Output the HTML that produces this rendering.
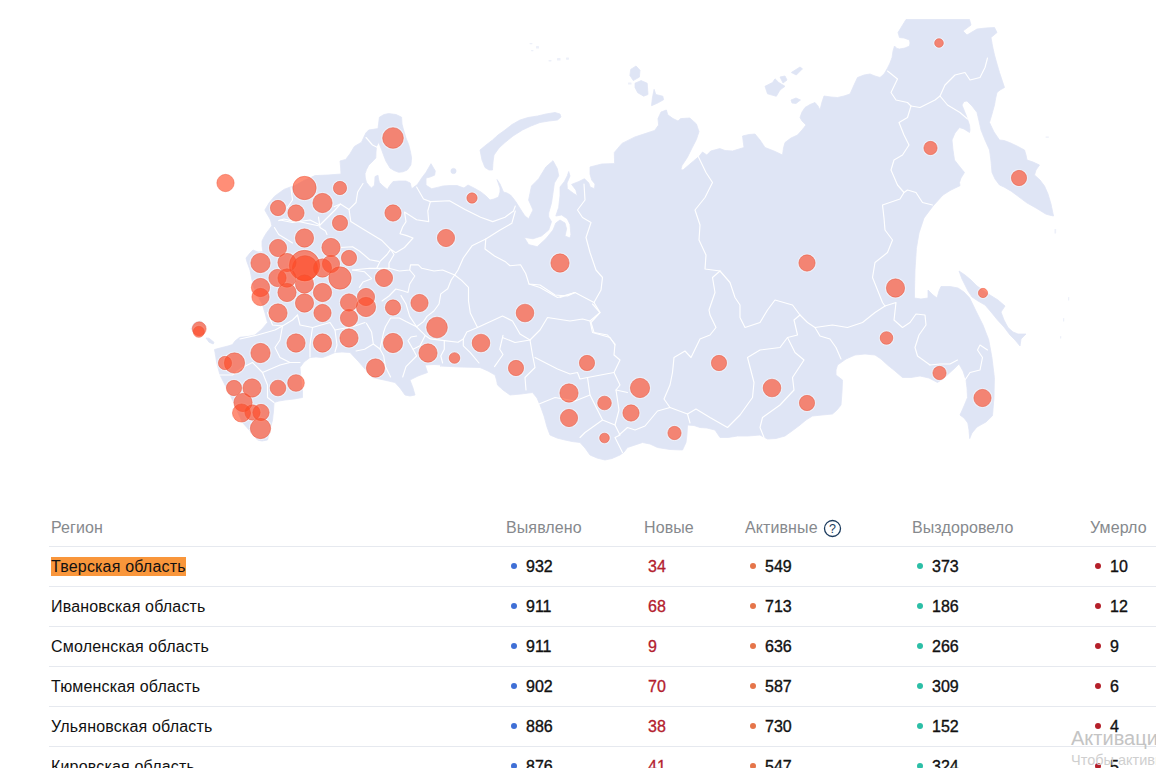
<!DOCTYPE html>
<html lang="ru"><head><meta charset="utf-8"><title>map</title>
<style>
html,body{margin:0;padding:0;background:#fff;}
body{width:1156px;height:768px;overflow:hidden;position:relative;font-family:"Liberation Sans",sans-serif;}
.map{position:absolute;left:0;top:0;}
.tbl{position:absolute;left:49px;top:507px;width:1120px;}
.row{position:relative;height:39px;border-bottom:1px solid #e6e9ef;}
.row.head{color:#8a8d91;}
.c{position:absolute;top:0;line-height:39px;font-size:16px;white-space:nowrap;color:#111;}
.nm{letter-spacing:0.18px;}
.head .c{color:#86898d;line-height:42px;letter-spacing:0.1px;}
.n{font-weight:400;-webkit-text-stroke:0.35px #111;}
.new{color:#b3202e;-webkit-text-stroke:0.3px #b3202e;}
.dot{position:absolute;width:6px;height:6px;border-radius:50%;top:16px;}
.hl{background:#f9963b;padding:1px 0 1px 0;}
.wm1{position:absolute;left:1071px;top:727px;font-size:20px;color:#c4c4c4;white-space:nowrap;}
.wm2{position:absolute;left:1071px;top:752px;font-size:14.5px;color:#cfcfcf;white-space:nowrap;}
</style></head><body>

<svg class="map" width="1156" height="500" viewBox="0 0 1156 500">
<g fill="#dfe5f5" stroke="#dfe5f5" stroke-width="0.8" stroke-linejoin="round">
<path d="M365.8,133.0 L368.7,130.0 L378.0,128.6 L379.4,117.2 L384.0,114.5 L388.7,113.6 L396.0,114.5 L401.6,117.2 L402.0,124.0 L403.8,130.8 L406.0,138.0 L408.8,145.0 L410.5,152.0 L411.6,158.0 L410.9,165.0 L407.3,170.0 L403.0,171.8 L398.7,172.3 L394.0,170.5 L390.0,168.0 L385.8,160.9 L383.5,155.0 L381.5,149.4 L378.7,142.2 L376.5,146.5 L376.0,152.0 L375.8,158.0 L372.0,162.0 L368.7,165.2 L366.5,169.5 L365.0,173.8 L365.3,178.0 L366.5,182.4 L369.0,185.5 L371.5,188.0 L374.4,185.2 L374.8,181.0 L375.0,176.6 L378.0,175.2 L378.5,179.0 L379.4,182.4 L383.0,186.0 L387.3,189.5 L390.0,185.2 L393.0,181.6 L399.0,181.0 L405.9,181.0 L410.2,183.0 L411.6,188.8 L417.4,184.5 L421.7,178.0 L426.0,172.3 L431.0,163.7 L435.3,171.0 L434.6,175.2 L430.0,177.0 L426.0,178.0 L426.0,185.2 L431.7,188.8 L437.4,187.4 L443.0,186.0 L450.0,185.5 L457.0,185.5 L461.0,187.0 L464.0,188.0 L468.0,185.0 L474.0,188.0 L481.0,192.0 L486.0,196.0 L490.0,200.0 L494.0,199.0 L498.5,197.0 L500.0,192.0 L500.0,188.0 L497.0,179.5 L500.0,184.0 L503.5,192.0 L507.0,193.0 L510.5,195.0 L513.0,198.0 L516.0,202.0 L521.0,210.0 L525.0,216.0 L528.6,218.8 L533.0,210.0 L528.6,200.0 L531.5,186.0 L538.7,178.7 L545.8,167.0 L553.0,160.7 L557.3,168.6 L558.7,175.8 L554.4,183.0 L553.0,193.0 L551.5,203.0 L548.7,213.0 L548.7,217.0 L551.5,221.6 L548.7,230.0 L541.5,236.0 L533.0,238.8 L524.3,237.4 L528.6,244.6 L537.2,246.7 L545.8,238.8 L553.0,230.0 L555.8,223.0 L560.0,220.0 L565.0,223.0 L566.6,228.8 L565.0,236.0 L570.0,238.0 L570.9,234.5 L570.0,224.5 L567.3,218.8 L561.6,215.0 L555.8,216.0 L558.7,207.3 L560.0,195.8 L560.0,187.0 L564.4,181.5 L567.3,175.8 L568.7,171.5 L570.0,176.0 L567.0,183.0 L567.3,188.7 L573.0,193.0 L577.3,195.8 L575.9,190.0 L571.6,184.4 L578.8,181.5 L584.5,178.7 L588.8,183.0 L590.2,187.0 L594.5,188.7 L595.0,184.0 L591.7,180.0 L590.0,174.0 L590.0,167.0 L601.7,164.0 L614.6,163.6 L614.3,152.5 L622.0,143.4 L635.0,136.9 L643.0,134.3 L654.7,130.4 L658.6,125.0 L658.0,118.6 L661.0,112.0 L666.4,110.0 L667.7,114.7 L673.0,118.6 L678.0,121.0 L680.7,118.6 L689.8,118.0 L696.4,123.9 L699.0,131.7 L696.4,139.5 L692.4,147.3 L687.2,157.7 L682.0,165.5 L680.8,169.6 L683.0,170.0 L687.0,166.5 L693.5,161.0 L699.5,156.0 L702.5,152.0 L706.8,155.0 L710.7,151.0 L719.8,148.6 L725.0,150.5 L732.5,151.0 L739.0,149.0 L744.0,147.5 L742.5,136.0 L749.0,134.5 L755.0,134.0 L760.0,140.0 L765.0,147.5 L774.0,151.0 L782.5,155.0 L783.5,148.0 L785.0,142.5 L791.0,138.0 L797.5,135.0 L802.0,130.0 L806.0,125.0 L802.0,121.0 L800.0,117.5 L802.0,112.0 L805.0,107.5 L810.0,104.5 L815.0,102.5 L818.0,106.0 L820.0,110.0 L822.0,102.0 L824.0,96.0 L831.0,97.0 L837.5,97.5 L844.0,96.0 L850.0,94.0 L854.0,85.0 L857.5,77.5 L864.0,75.0 L870.0,74.0 L875.0,76.0 L880.0,77.5 L884.0,74.0 L887.0,69.0 L890.0,63.0 L892.0,57.5 L893.0,51.0 L894.5,46.0 L897.0,48.5 L899.5,49.0 L905.0,48.0 L909.5,46.0 L910.0,43.0 L909.5,40.0 L904.0,38.0 L899.5,37.5 L898.0,32.5 L902.0,26.0 L906.0,19.5 L969.5,19.5 L971.0,25.0 L967.0,28.0 L963.0,31.0 L967.0,35.0 L972.0,32.0 L977.0,29.0 L986.0,28.0 L994.5,27.5 L997.0,32.5 L991.0,37.5 L992.5,46.0 L994.5,55.0 L997.0,64.0 L999.5,72.5 L1002.0,80.0 L1004.5,87.5 L1000.0,90.0 L997.0,92.5 L995.5,99.0 L994.5,105.0 L992.0,114.0 L989.5,122.5 L994.0,132.0 L999.5,140.0 L1004.0,140.5 L1009.5,142.5 L1017.0,146.0 L1024.5,150.0 L1026.0,155.0 L1027.0,160.0 L1033.0,162.0 L1039.5,165.0 L1036.0,170.0 L1034.5,175.0 L1040.0,180.0 L1044.5,186.0 L1048.0,194.0 L1051.0,204.0 L1053.5,216.0 L1049.0,215.0 L1045.7,214.0 L1036.0,208.0 L1026.7,202.8 L1019.0,197.0 L1011.5,191.4 L1004.0,187.0 L999.5,185.0 L995.0,179.0 L992.0,172.5 L991.0,161.0 L989.5,150.0 L985.0,140.0 L981.0,130.0 L979.0,121.0 L977.0,112.5 L972.0,106.0 L967.0,101.0 L964.0,101.5 L962.0,105.0 L966.0,115.0 L969.5,125.0 L970.0,130.0 L969.5,132.5 L964.0,129.0 L959.5,127.5 L955.0,133.0 L952.0,140.0 L953.0,150.0 L954.5,160.0 L960.0,167.0 L964.5,172.5 L961.0,178.0 L959.5,182.5 L960.0,185.7 L951.0,190.0 L943.0,195.0 L933.0,206.0 L924.0,218.0 L919.0,233.0 L916.4,248.4 L915.0,270.0 L914.5,290.0 L914.5,298.0 L921.0,299.0 L928.0,298.0 L928.0,290.0 L933.0,295.0 L937.0,298.0 L939.0,291.0 L941.0,286.5 L950.0,286.5 L958.0,288.0 L964.0,292.0 L969.7,298.0 L976.0,311.0 L983.0,325.0 L988.7,339.7 L992.0,358.0 L994.4,377.7 L994.0,397.0 L992.5,415.7 L986.0,422.0 L977.0,427.0 L972.0,433.0 L969.7,438.6 L969.0,430.0 L967.8,423.0 L964.0,418.0 L960.0,415.0 L964.0,406.0 L967.5,397.5 L967.0,388.0 L966.0,380.0 L963.0,371.0 L959.0,364.0 L955.0,368.0 L950.0,372.5 L944.0,378.0 L937.5,382.5 L929.0,378.0 L920.0,376.0 L911.0,377.5 L902.5,377.5 L895.0,371.0 L887.5,365.0 L881.0,359.0 L875.0,355.0 L865.0,354.0 L855.0,355.0 L846.0,359.0 L837.5,365.0 L836.0,370.0 L836.0,375.0 L842.5,380.0 L842.0,392.0 L841.0,405.0 L837.0,410.0 L832.5,414.0 L822.0,415.0 L812.5,416.0 L806.0,420.0 L800.0,425.0 L792.0,431.0 L785.0,436.0 L776.0,438.5 L767.5,439.0 L760.0,435.0 L748.0,436.0 L737.5,436.0 L728.0,437.5 L720.0,437.5 L717.0,433.0 L715.0,430.0 L707.0,428.0 L700.0,427.5 L694.0,425.5 L687.5,425.0 L687.0,434.0 L686.0,442.5 L682.5,450.0 L670.0,449.5 L657.5,447.5 L650.0,444.0 L642.5,442.5 L635.0,445.0 L627.5,447.5 L624.0,452.0 L620.0,455.0 L612.0,458.5 L605.0,460.0 L597.0,458.0 L590.0,455.0 L585.0,448.0 L580.0,442.5 L572.0,441.5 L565.0,440.0 L557.0,438.0 L550.0,435.0 L547.0,427.0 L544.0,416.0 L540.0,405.0 L537.0,398.0 L532.5,392.5 L521.0,394.0 L510.0,395.0 L503.0,390.0 L497.5,385.0 L496.5,380.0 L495.0,375.0 L488.0,371.0 L480.0,367.5 L460.0,367.0 L440.0,366.0 L442.5,365.0 L434.0,364.5 L425.0,365.0 L427.5,372.5 L418.0,376.0 L410.0,380.0 L413.0,388.0 L415.0,395.0 L410.0,396.0 L405.0,395.0 L400.0,388.0 L395.0,382.5 L384.0,380.0 L372.5,377.5 L365.0,369.0 L358.0,361.0 L350.0,352.5 L342.0,352.0 L335.0,352.5 L328.0,355.5 L322.5,357.5 L316.0,357.0 L310.0,357.5 L304.0,362.0 L300.0,367.5 L301.0,379.0 L302.5,390.0 L302.5,397.5 L294.0,399.0 L285.0,400.0 L279.0,401.0 L274.0,402.5 L273.5,411.0 L272.5,420.0 L270.0,430.0 L267.5,440.0 L262.0,441.0 L257.5,440.0 L250.0,431.0 L242.5,422.5 L238.5,414.0 L235.0,405.0 L231.0,397.0 L227.5,390.0 L223.5,382.0 L220.0,375.0 L217.0,364.0 L215.0,352.5 L214.5,349.5 L222.0,347.5 L228.0,346.0 L232.4,344.6 L235.0,341.0 L239.7,337.3 L248.0,336.5 L255.0,335.0 L262.0,329.0 L267.5,322.5 L265.0,313.0 L262.5,305.0 L258.0,296.0 L254.0,288.0 L252.0,280.0 L250.0,270.0 L247.0,262.0 L246.0,258.0 L250.0,253.0 L253.0,250.0 L258.0,252.0 L263.0,251.8 L262.0,246.0 L262.0,241.0 L264.0,237.0 L266.6,232.7 L269.5,229.0 L271.8,225.8 L271.0,222.0 L270.0,219.0 L267.0,214.0 L264.8,210.0 L269.0,203.0 L274.4,196.4 L279.0,193.0 L284.0,189.4 L289.0,187.5 L294.0,186.0 L304.0,180.5 L315.0,175.6 L328.0,175.0 L341.0,174.0 L340.5,166.0 L340.0,161.0 L345.7,159.4 L350.0,153.7 L354.3,146.5 L361.5,142.2Z"/>
<path d="M480.0,150.0 L482.0,160.0 L485.0,167.5 L489.0,170.0 L492.5,170.0 L493.0,162.0 L494.0,155.0 L499.0,148.0 L505.0,142.5 L513.0,136.0 L522.5,130.0 L531.0,126.0 L540.0,122.5 L549.0,121.0 L557.5,120.0 L561.0,117.0 L560.0,114.0 L555.0,112.5 L546.0,114.0 L537.5,116.0 L528.0,117.5 L520.0,120.0 L512.0,124.5 L505.0,130.0 L498.0,135.0 L492.5,140.0 L486.0,145.0Z"/>
<path d="M959.0,271.0 L965.0,275.0 L971.0,280.0 L977.0,286.0 L984.0,291.0 L990.0,295.0 L998.0,300.0 L1005.0,306.0 L1001.0,312.0 L1004.0,320.0 L1008.0,327.5 L1013.0,332.0 L1018.0,334.0 L1026.0,334.0 L1021.0,339.0 L1020.0,346.0 L1015.0,340.0 L1010.0,335.0 L1004.0,327.0 L997.5,320.0 L991.0,312.0 L985.0,305.0 L978.0,301.0 L972.0,297.0 L968.0,291.0 L965.0,285.0 L962.0,279.0Z"/>
<path d="M636.0,66.0 L640.0,70.2 L639.4,77.1 L633.3,80.6 L629.9,75.4 L630.7,69.4Z"/>
<path d="M635.0,83.2 L641.1,80.6 L647.2,83.2 L648.0,94.5 L643.7,96.2 L637.7,92.7 L635.0,87.5Z"/>
<path d="M654.1,89.3 L655.8,94.5 L662.8,96.2 L663.6,99.7 L657.6,103.1 L651.5,105.7 L652.4,97.9Z"/>
<path d="M765.0,86.3 L772.5,82.5 L775.0,78.8 L778.8,82.5 L785.0,86.3 L780.0,90.0 L776.3,96.3 L767.5,93.8Z"/>
<path d="M780.0,77.0 L785.0,76.0 L787.0,80.0 L783.0,83.0Z"/>
<path d="M791.3,72.5 L800.0,67.0 L802.5,68.8 L796.3,75.0Z"/>
<path d="M791.0,100.0 L796.0,98.0 L800.5,100.0 L796.0,103.5 L792.0,103.0Z"/>
<circle cx="453.5" cy="171" r="2.6"/>
<g opacity="0.55" stroke="none">
<rect x="529.5" y="43" width="3" height="1.2" rx="0.6"/>
<rect x="536" y="46" width="3" height="2.5" rx="0.6"/>
<rect x="531" y="50" width="2.5" height="1.2" rx="0.6"/>
<rect x="548.5" y="60" width="3" height="1.4" rx="0.6"/>
<rect x="557" y="58" width="3.5" height="2.6" rx="0.6"/>
<rect x="566" y="57.5" width="3" height="2.2" rx="0.6"/>
<rect x="1054.5" y="229" width="1.6" height="4.5" rx="0.6"/>
<rect x="1068" y="297" width="1.2" height="3.5" rx="0.6"/>
<rect x="1063" y="318" width="1.2" height="3.5" rx="0.6"/>
<rect x="1060" y="336" width="1.2" height="2.5" rx="0.6"/>
<rect x="1045.5" y="136.5" width="3.5" height="1.2" rx="0.6"/>
<rect x="628" y="82.5" width="3.5" height="2" rx="0.6"/>
</g>
<path d="M194,323 L201,321 L206,326 L204,333 L199,337 L195,334 L191,329Z"/>
<path d="M206,338 L209,338.2 L214,342.3 L213.2,344 L209,342.2Z"/>
</g>
<g fill="none" stroke="#ffffff" stroke-width="1.15" stroke-linejoin="round" stroke-linecap="round">
<path d="M584.0,184.0 L585.0,200.0 L577.5,210.0 L582.5,217.5 L591.0,222.5 L586.0,237.5 L590.0,252.5 L596.0,270.0 L602.5,277.5 L601.0,290.0 L594.0,302.5 L600.0,312.5 L591.0,322.5 L594.0,332.5 L607.5,335.0 L615.0,344.0 L614.0,355.0 L620.0,360.0 L614.0,372.5 L620.0,385.0 L616.0,390.0 L627.5,392.5"/>
<path d="M560.0,297.5 L575.0,292.5 L594.0,302.5"/>
<path d="M697.5,155.0 L706.0,172.5 L712.5,182.5 L705.0,197.5 L695.0,210.0 L700.0,225.0 L699.0,240.0 L706.0,255.0 L705.0,269.0 L720.0,271.0"/>
<path d="M720.0,271.0 L712.5,277.5 L715.0,292.5 L709.0,310.0 L710.0,315.0 L716.0,327.5 L710.0,335.0 L700.0,339.0 L691.0,357.5 L685.0,351.0 L674.0,357.5 L672.5,372.5 L670.0,385.0 L664.0,399.0 L670.0,407.5"/>
<path d="M720.0,271.0 L730.0,282.5 L735.0,297.5 L740.0,305.0 L740.0,317.5 L745.0,327.5 L760.0,322.5 L767.5,310.0 L775.0,300.0 L792.5,305.0 L800.0,315.0"/>
<path d="M800.0,315.0 L794.0,320.0 L797.5,335.0 L787.5,337.5 L780.0,347.5 L760.0,350.0 L747.5,357.5 L754.0,382.5 L752.5,397.5 L740.0,415.0 L727.5,427.5 L710.0,417.5 L696.0,409.0 L687.5,414.0 L670.0,407.5"/>
<path d="M687.5,414.0 L690.0,423.0"/>
<path d="M670.0,407.5 L657.5,411.0 L645.0,426.0 L635.0,430.0 L627.5,427.5 L619.0,435.0"/>
<path d="M787.5,337.5 L795.0,352.5 L804.0,360.0 L792.5,377.5 L794.0,390.0 L780.0,405.0 L762.5,417.5 L760.0,427.5 L764.0,437.5"/>
<path d="M800.0,315.0 L807.5,322.5 L815.0,327.5 L820.0,336.0 L830.0,339.0 L836.0,347.5 L841.0,359.0"/>
<path d="M815.0,327.5 L832.5,325.0 L847.5,327.5 L862.5,322.5 L875.0,312.5 L885.0,306.0"/>
<path d="M887.5,71.0 L897.5,79.0 L891.0,92.5 L896.0,100.0 L907.5,102.5 L911.0,106.0"/>
<path d="M911.0,106.0 L920.0,107.5 L935.0,100.0 L940.0,96.0 L945.0,85.0 L955.0,75.0 L965.0,72.5 L970.0,80.0 L980.0,77.5 L985.0,67.5 L987.5,58.0"/>
<path d="M940.0,96.0 L947.5,105.0 L960.0,112.5 L967.5,119.0"/>
<path d="M911.0,106.0 L907.5,117.5 L899.0,122.5 L904.0,135.0 L909.0,145.0 L902.5,155.0 L894.0,160.0 L891.0,170.0 L897.5,185.0 L904.0,192.5 L900.0,199.0 L882.5,205.0 L884.0,218.0 L885.0,230.0 L892.5,240.0 L887.5,252.5 L875.0,262.5 L872.5,277.5 L877.5,290.0 L882.5,302.5 L885.0,306.0"/>
<path d="M904.0,192.5 L907.5,190.0 L916.0,192.5 L922.5,202.5 L932.5,205.0"/>
<path d="M885.0,306.0 L896.0,302.5 L894.0,320.0 L902.5,327.5 L910.0,322.5 L916.0,314.0 L925.0,315.0 L926.0,325.0 L919.0,335.0 L915.0,347.5 L917.5,356.0 L930.0,365.0"/>
<path d="M930.0,365.0 L940.0,364.0 L950.0,364.0 L957.5,360.0"/>
<path d="M965.0,380.0 L970.0,372.5 L980.0,370.0 L982.5,357.5 L977.5,350.0 L980.0,345.0 L987.5,350.0"/>
<path d="M430.4,201.6 L449.5,200.8 L465.0,209.4 L480.6,217.2 L492.8,221.6 L505.0,217.2 L513.5,211.0 L515.3,206.0"/>
<path d="M515.3,211.0 L511.8,223.3 L499.7,230.2 L485.8,238.9 L472.0,245.8 L463.3,258.0 L458.0,270.0 L454.7,275.0"/>
<path d="M485.8,238.9 L485.0,249.0 L494.5,256.0 L505.0,261.4 L510.0,265.7 L520.5,264.8 L525.7,273.5 L529.0,284.0 L540.0,285.0 L555.0,295.0 L567.5,296.0 L575.0,292.5"/>
<path d="M454.7,275.0 L461.6,280.4 L468.5,287.4 L468.5,301.0 L470.3,313.0 L477.5,327.5 L502.5,316.0 L512.5,321.0 L520.0,334.0 L530.0,340.0"/>
<path d="M529.0,284.0 L540.0,287.5 L557.5,297.5 L575.0,292.5"/>
<path d="M592.5,304.0 L600.0,312.5 L590.0,321.0 L582.5,319.0 L570.0,321.0 L547.5,317.5 L540.0,330.0 L530.0,340.0"/>
<path d="M530.0,340.0 L532.5,355.0 L535.0,367.5 L525.0,377.5 L526.0,390.0"/>
<path d="M502.5,337.5 L515.0,342.5 L530.0,340.0"/>
<path d="M590.0,321.0 L592.5,332.5 L610.0,337.5 L615.0,345.0"/>
<path d="M535.0,357.5 L557.5,369.0 L570.0,374.0 L577.5,372.5 L580.0,379.0 L587.5,377.5 L614.0,372.5"/>
<path d="M587.5,377.5 L590.0,395.0 L575.0,401.0 L555.0,397.5 L539.0,404.0"/>
<path d="M590.0,395.0 L600.0,415.0 L602.5,420.0 L585.0,432.5 L580.0,437.5"/>
<path d="M602.5,420.0 L615.0,425.0 L619.0,410.0 L616.0,390.0"/>
<path d="M615.0,425.0 L620.0,435.0 L615.0,437.5 L622.5,452.5"/>
<path d="M366.0,137.5 L372.5,145.0 L377.5,147.5"/>
<path d="M363.0,183.5 L357.7,192.0 L356.0,202.5 L349.0,209.4 L350.8,221.6 L364.6,230.0 L382.0,240.6 L390.6,249.3"/>
<path d="M349.0,209.4 L340.4,204.0 L334.0,206.8"/>
<path d="M390.6,249.3 L395.8,252.7 L404.5,247.5 L413.0,238.0 L406.0,235.4 L400.0,233.7 L402.7,226.8 L406.0,221.6 L404.5,212.0 L416.6,219.8 L428.7,221.6 L427.8,211.0 L430.4,201.6"/>
<path d="M416.6,187.0 L423.5,199.0 L430.4,201.6"/>
<path d="M390.6,249.3 L387.0,254.5 L380.0,261.4 L376.8,268.3"/>
<path d="M390.6,249.3 L394.0,254.5 L389.0,263.0 L389.0,268.3"/>
<path d="M352.5,270.0 L369.8,268.3 L389.0,268.3 L399.3,271.0 L409.7,270.0 L410.5,264.8 L418.3,264.8 L421.8,268.3 L434.0,271.0 L442.6,270.0 L454.7,275.0"/>
<path d="M409.7,270.0 L414.8,276.0 L409.7,284.0 L408.0,292.5 L402.7,290.8 L395.8,289.0 L389.0,296.0 L382.0,301.0"/>
<path d="M340.4,247.5 L352.5,246.7 L359.4,251.0 L369.8,259.7 L378.5,261.4"/>
<path d="M352.5,270.0 L364.6,271.8 L371.6,278.7 L363.0,282.0 L359.4,287.4"/>
<path d="M280.0,220.0 L292.5,222.5 L310.0,220.0 L320.0,225.0 L325.0,220.0 L335.0,210.0 L340.4,204.0"/>
<path d="M291.0,187.7 L292.5,200.0 L287.0,208.0"/>
<path d="M278.7,220.6 L284.0,219.0 L291.0,220.6 L301.0,222.0 L310.0,224.0 L318.5,225.8"/>
<path d="M318.5,217.0 L320.0,227.5 L325.5,231.0 L327.0,234.5"/>
<path d="M274.4,227.5 L278.7,234.5 L287.4,239.7 L292.5,243.0"/>
<path d="M267.5,312.5 L272.5,325.0 L282.5,326.0 L292.5,320.0 L297.5,315.0"/>
<path d="M240.0,339.0 L257.5,335.0 L275.0,330.0 L282.5,326.0"/>
<path d="M282.5,326.0 L280.0,340.0 L275.0,347.5 L280.0,357.5 L290.0,362.5 L300.0,362.5"/>
<path d="M297.5,315.0 L300.0,325.0 L312.5,327.5 L330.0,322.5 L335.0,330.0 L355.0,326.0 L365.0,322.5"/>
<path d="M252.5,362.5 L262.5,372.5 L280.0,365.0 L290.0,362.5"/>
<path d="M262.5,372.5 L267.5,385.0 L267.5,397.5 L274.0,402.5"/>
<path d="M217.5,375.0 L232.5,375.0 L242.5,367.5 L252.5,362.5"/>
<path d="M335.0,330.0 L337.0,345.0 L335.0,352.0"/>
<path d="M312.5,327.5 L310.0,345.0 L310.0,357.0"/>
<path d="M454.7,275.0 L451.2,280.0 L447.7,288.7 L440.8,293.9 L439.0,304.0 L433.9,311.0 L427.0,316.4 L423.5,321.6 L416.6,326.8 L413.0,325.0 L406.0,321.6 L399.3,318.0 L390.6,318.0 L385.4,326.8 L383.7,332.0 L380.0,349.0 L383.7,356.0 L385.4,366.6 L390.6,377.0"/>
<path d="M477.5,327.5 L466.8,332.0 L463.3,338.9 L463.3,345.8 L470.3,352.7 L479.0,363.0"/>
<path d="M463.3,338.9 L458.0,342.3 L444.3,340.6 L430.4,338.9 L425.2,335.4 L416.6,326.8"/>
<path d="M425.2,335.4 L420.0,345.8 L413.0,349.3 L408.0,340.6 L411.0,337.0 L416.6,336.0"/>
<path d="M413.0,349.3 L416.6,356.0 L406.0,366.6 L402.7,377.0"/>
<path d="M503.0,335.4 L499.7,349.3 L503.0,354.5 L494.5,366.6"/>
<path d="M444.3,340.6 L444.3,349.3 L440.8,356.0 L442.6,363.0"/>
<path d="M366.4,323.3 L371.6,332.0 L373.3,344.0 L364.6,349.3 L356.0,351.0"/>
<path d="M380.0,349.0 L373.3,344.0"/>
<path d="M401.0,295.6 L406.0,304.0 L409.7,316.4 L416.6,326.8"/>
</g>
<g fill="none" stroke="#fff" stroke-opacity="0.45" stroke-width="1.1">
<circle cx="225.5" cy="183" r="9.55"/>
<circle cx="393" cy="138" r="11.25"/>
<circle cx="304.5" cy="188" r="12.55"/>
<circle cx="340" cy="188" r="7.55"/>
<circle cx="322.5" cy="203" r="10.55"/>
<circle cx="278" cy="208" r="8.55"/>
<circle cx="296" cy="213" r="9.05"/>
<circle cx="340" cy="223" r="8.55"/>
<circle cx="393" cy="213" r="9.05"/>
<circle cx="446" cy="238" r="9.55"/>
<circle cx="304.5" cy="238" r="10.05"/>
<circle cx="278" cy="248" r="9.55"/>
<circle cx="331" cy="247.5" r="10.05"/>
<circle cx="349" cy="258" r="8.55"/>
<circle cx="260.5" cy="263" r="10.55"/>
<circle cx="304.5" cy="265.5" r="16.05"/>
<circle cx="305" cy="268.3" r="13.55"/>
<circle cx="287" cy="262.5" r="10.05"/>
<circle cx="331" cy="264" r="9.55"/>
<circle cx="322.5" cy="268" r="10.05"/>
<circle cx="340" cy="278" r="12.05"/>
<circle cx="384" cy="278" r="9.55"/>
<circle cx="472" cy="198" r="6.05"/>
<circle cx="277.5" cy="278" r="9.55"/>
<circle cx="287" cy="278" r="10.05"/>
<circle cx="260.5" cy="287.5" r="10.05"/>
<circle cx="304.5" cy="284" r="10.05"/>
<circle cx="322.5" cy="292.5" r="10.05"/>
<circle cx="287" cy="292.5" r="10.05"/>
<circle cx="260.5" cy="297" r="9.55"/>
<circle cx="304.5" cy="303" r="10.05"/>
<circle cx="278" cy="313" r="10.05"/>
<circle cx="322.5" cy="313" r="9.55"/>
<circle cx="349" cy="302.5" r="9.55"/>
<circle cx="366" cy="297" r="9.55"/>
<circle cx="366" cy="307" r="10.55"/>
<circle cx="349" cy="318" r="9.55"/>
<circle cx="393" cy="307.5" r="8.55"/>
<circle cx="419.5" cy="303" r="9.55"/>
<circle cx="437" cy="327.5" r="11.25"/>
<circle cx="199.2" cy="328.8" r="7.85"/>
<circle cx="198.8" cy="331.8" r="6.45"/>
<circle cx="296" cy="343" r="10.05"/>
<circle cx="322.5" cy="343" r="10.05"/>
<circle cx="349" cy="338" r="10.05"/>
<circle cx="393" cy="343" r="10.55"/>
<circle cx="428" cy="353" r="10.05"/>
<circle cx="454.5" cy="358" r="6.25"/>
<circle cx="260.5" cy="353" r="10.55"/>
<circle cx="234.5" cy="363" r="11.05"/>
<circle cx="225" cy="363" r="7.55"/>
<circle cx="375.5" cy="368" r="10.05"/>
<circle cx="296" cy="383" r="9.25"/>
<circle cx="278" cy="388" r="8.75"/>
<circle cx="252" cy="388" r="10.05"/>
<circle cx="234" cy="388" r="8.55"/>
<circle cx="243" cy="402.5" r="10.05"/>
<circle cx="241.5" cy="413" r="9.95"/>
<circle cx="252.5" cy="412.5" r="8.55"/>
<circle cx="261" cy="412.5" r="9.05"/>
<circle cx="260.5" cy="428.5" r="11.05"/>
<circle cx="525" cy="313" r="9.75"/>
<circle cx="481" cy="343" r="9.75"/>
<circle cx="516" cy="368" r="8.55"/>
<circle cx="587" cy="363" r="8.55"/>
<circle cx="569" cy="393" r="10.05"/>
<circle cx="569" cy="418" r="9.55"/>
<circle cx="604.5" cy="403" r="7.75"/>
<circle cx="604.5" cy="438" r="5.75"/>
<circle cx="631" cy="413" r="9.05"/>
<circle cx="640" cy="388" r="10.55"/>
<circle cx="674.5" cy="433" r="7.55"/>
<circle cx="719" cy="363" r="8.55"/>
<circle cx="772" cy="388" r="9.75"/>
<circle cx="807" cy="403" r="8.55"/>
<circle cx="886.5" cy="338" r="7.25"/>
<circle cx="939.5" cy="373" r="7.55"/>
<circle cx="895.5" cy="288" r="10.05"/>
<circle cx="983" cy="293" r="5.55"/>
<circle cx="982.5" cy="398" r="9.55"/>
<circle cx="939" cy="43" r="5.25"/>
<circle cx="930.5" cy="148" r="7.55"/>
<circle cx="1019" cy="178" r="8.55"/>
<circle cx="560" cy="263" r="10.05"/>
<circle cx="807" cy="263" r="9.05"/>
</g>
<g fill="#ff4824" fill-opacity="0.62" stroke="#ee5236" stroke-opacity="0.5" stroke-width="0.9">
<circle cx="225.5" cy="183" r="8.65"/>
<circle cx="393" cy="138" r="10.35"/>
<circle cx="304.5" cy="188" r="11.65"/>
<circle cx="340" cy="188" r="6.65"/>
<circle cx="322.5" cy="203" r="9.65"/>
<circle cx="278" cy="208" r="7.65"/>
<circle cx="296" cy="213" r="8.15"/>
<circle cx="340" cy="223" r="7.65"/>
<circle cx="393" cy="213" r="8.15"/>
<circle cx="446" cy="238" r="8.65"/>
<circle cx="304.5" cy="238" r="9.15"/>
<circle cx="278" cy="248" r="8.65"/>
<circle cx="331" cy="247.5" r="9.15"/>
<circle cx="349" cy="258" r="7.65"/>
<circle cx="260.5" cy="263" r="9.65"/>
<circle cx="304.5" cy="265.5" r="15.15"/>
<circle cx="305" cy="268.3" r="12.65"/>
<circle cx="287" cy="262.5" r="9.15"/>
<circle cx="331" cy="264" r="8.65"/>
<circle cx="322.5" cy="268" r="9.15"/>
<circle cx="340" cy="278" r="11.15"/>
<circle cx="384" cy="278" r="8.65"/>
<circle cx="472" cy="198" r="5.15"/>
<circle cx="277.5" cy="278" r="8.65"/>
<circle cx="287" cy="278" r="9.15"/>
<circle cx="260.5" cy="287.5" r="9.15"/>
<circle cx="304.5" cy="284" r="9.15"/>
<circle cx="322.5" cy="292.5" r="9.15"/>
<circle cx="287" cy="292.5" r="9.15"/>
<circle cx="260.5" cy="297" r="8.65"/>
<circle cx="304.5" cy="303" r="9.15"/>
<circle cx="278" cy="313" r="9.15"/>
<circle cx="322.5" cy="313" r="8.65"/>
<circle cx="349" cy="302.5" r="8.65"/>
<circle cx="366" cy="297" r="8.65"/>
<circle cx="366" cy="307" r="9.65"/>
<circle cx="349" cy="318" r="8.65"/>
<circle cx="393" cy="307.5" r="7.65"/>
<circle cx="419.5" cy="303" r="8.65"/>
<circle cx="437" cy="327.5" r="10.35"/>
<circle cx="199.2" cy="328.8" r="6.95"/>
<circle cx="198.8" cy="331.8" r="5.55"/>
<circle cx="296" cy="343" r="9.15"/>
<circle cx="322.5" cy="343" r="9.15"/>
<circle cx="349" cy="338" r="9.15"/>
<circle cx="393" cy="343" r="9.65"/>
<circle cx="428" cy="353" r="9.15"/>
<circle cx="454.5" cy="358" r="5.35"/>
<circle cx="260.5" cy="353" r="9.65"/>
<circle cx="234.5" cy="363" r="10.15"/>
<circle cx="225" cy="363" r="6.65"/>
<circle cx="375.5" cy="368" r="9.15"/>
<circle cx="296" cy="383" r="8.35"/>
<circle cx="278" cy="388" r="7.85"/>
<circle cx="252" cy="388" r="9.15"/>
<circle cx="234" cy="388" r="7.65"/>
<circle cx="243" cy="402.5" r="9.15"/>
<circle cx="241.5" cy="413" r="9.05"/>
<circle cx="252.5" cy="412.5" r="7.65"/>
<circle cx="261" cy="412.5" r="8.15"/>
<circle cx="260.5" cy="428.5" r="10.15"/>
<circle cx="525" cy="313" r="8.85"/>
<circle cx="481" cy="343" r="8.85"/>
<circle cx="516" cy="368" r="7.65"/>
<circle cx="587" cy="363" r="7.65"/>
<circle cx="569" cy="393" r="9.15"/>
<circle cx="569" cy="418" r="8.65"/>
<circle cx="604.5" cy="403" r="6.85"/>
<circle cx="604.5" cy="438" r="4.85"/>
<circle cx="631" cy="413" r="8.15"/>
<circle cx="640" cy="388" r="9.65"/>
<circle cx="674.5" cy="433" r="6.65"/>
<circle cx="719" cy="363" r="7.65"/>
<circle cx="772" cy="388" r="8.85"/>
<circle cx="807" cy="403" r="7.65"/>
<circle cx="886.5" cy="338" r="6.35"/>
<circle cx="939.5" cy="373" r="6.65"/>
<circle cx="895.5" cy="288" r="9.15"/>
<circle cx="983" cy="293" r="4.65"/>
<circle cx="982.5" cy="398" r="8.65"/>
<circle cx="939" cy="43" r="4.35"/>
<circle cx="930.5" cy="148" r="6.65"/>
<circle cx="1019" cy="178" r="7.65"/>
<circle cx="560" cy="263" r="9.15"/>
<circle cx="807" cy="263" r="8.15"/>
</g>
</svg>
<div class="tbl">
<div class="row head"><span class="c" style="left:2px">Регион</span><span class="c" style="left:457px">Выявлено</span><span class="c" style="left:595px">Новые</span><span class="c" style="left:696px">Активные</span><svg style="position:absolute;left:774px;top:12px" width="19" height="19" viewBox="0 0 19 19"><circle cx="9.5" cy="9.5" r="8" fill="none" stroke="#1d3c5e" stroke-width="1.3"/><text x="9.5" y="14" font-size="12.5" font-weight="400" text-anchor="middle" fill="#1d3c5e" font-family="Liberation Sans, sans-serif">?</text></svg><span class="c" style="left:863px">Выздоровело</span><span class="c" style="left:1041px">Умерло</span></div>
<div class="row"><span class="c nm" style="left:2px"><span class="hl">Тверская область</span></span><i class="dot" style="left:462px;background:#3f6fd6"></i><span class="c n" style="left:477px">932</span><span class="c n new" style="left:599px">34</span><i class="dot" style="left:701px;background:#e5754a"></i><span class="c n" style="left:716px">549</span><i class="dot" style="left:868px;background:#2cbfa7"></i><span class="c n" style="left:883px">373</span><i class="dot" style="left:1046px;background:#b5202a"></i><span class="c n" style="left:1061px">10</span></div>
<div class="row"><span class="c nm" style="left:2px">Ивановская область</span><i class="dot" style="left:462px;background:#3f6fd6"></i><span class="c n" style="left:477px">911</span><span class="c n new" style="left:599px">68</span><i class="dot" style="left:701px;background:#e5754a"></i><span class="c n" style="left:716px">713</span><i class="dot" style="left:868px;background:#2cbfa7"></i><span class="c n" style="left:883px">186</span><i class="dot" style="left:1046px;background:#b5202a"></i><span class="c n" style="left:1061px">12</span></div>
<div class="row"><span class="c nm" style="left:2px">Смоленская область</span><i class="dot" style="left:462px;background:#3f6fd6"></i><span class="c n" style="left:477px">911</span><span class="c n new" style="left:599px">9</span><i class="dot" style="left:701px;background:#e5754a"></i><span class="c n" style="left:716px">636</span><i class="dot" style="left:868px;background:#2cbfa7"></i><span class="c n" style="left:883px">266</span><i class="dot" style="left:1046px;background:#b5202a"></i><span class="c n" style="left:1061px">9</span></div>
<div class="row"><span class="c nm" style="left:2px">Тюменская область</span><i class="dot" style="left:462px;background:#3f6fd6"></i><span class="c n" style="left:477px">902</span><span class="c n new" style="left:599px">70</span><i class="dot" style="left:701px;background:#e5754a"></i><span class="c n" style="left:716px">587</span><i class="dot" style="left:868px;background:#2cbfa7"></i><span class="c n" style="left:883px">309</span><i class="dot" style="left:1046px;background:#b5202a"></i><span class="c n" style="left:1061px">6</span></div>
<div class="row"><span class="c nm" style="left:2px">Ульяновская область</span><i class="dot" style="left:462px;background:#3f6fd6"></i><span class="c n" style="left:477px">886</span><span class="c n new" style="left:599px">38</span><i class="dot" style="left:701px;background:#e5754a"></i><span class="c n" style="left:716px">730</span><i class="dot" style="left:868px;background:#2cbfa7"></i><span class="c n" style="left:883px">152</span><i class="dot" style="left:1046px;background:#b5202a"></i><span class="c n" style="left:1061px">4</span></div>
<div class="row"><span class="c nm" style="left:2px">Кировская область</span><i class="dot" style="left:462px;background:#3f6fd6"></i><span class="c n" style="left:477px">876</span><span class="c n new" style="left:599px">41</span><i class="dot" style="left:701px;background:#e5754a"></i><span class="c n" style="left:716px">547</span><i class="dot" style="left:868px;background:#2cbfa7"></i><span class="c n" style="left:883px">324</span><i class="dot" style="left:1046px;background:#b5202a"></i><span class="c n" style="left:1061px">5</span></div>
</div>
<div class="wm1">Активация Windows</div><div class="wm2">Чтобы активировать Windows</div>
</body></html>
